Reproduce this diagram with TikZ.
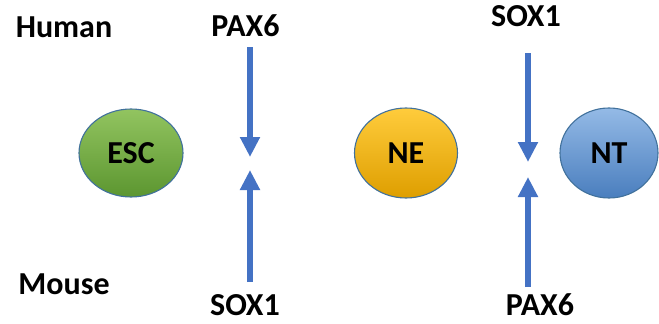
\documentclass[tikz,border=0pt]{standalone}
\usepackage{fontspec}
\setmainfont{Carlito}
\usetikzlibrary{arrows.meta,shapes.geometric}
\definecolor{rim}{HTML}{41719C}
\definecolor{arrowblue}{HTML}{4472C4}
\tikzset{
  cell/.style={ellipse, draw=rim, line width=1.1pt, inner sep=0pt,
    font=\fontsize{32}{36}\selectfont\bfseries},
  lbl/.style={font=\fontsize{32}{36}\selectfont\bfseries, inner sep=0pt, anchor=base},
  signal/.style={draw=arrowblue, line width=6pt,
    -{Triangle[width=19pt,length=20pt]}}
}
\begin{document}
\begin{tikzpicture}[x=1pt,y=-1pt]
\useasboundingbox (0,0) rectangle (659,324);

% cell-state circles
\node[cell, minimum width=104pt, minimum height=88pt,
  top color={rgb,255:red,146;green,196;blue,96}, bottom color={rgb,255:red,92;green,150;blue,48}]
  (esc) at (131,153) {ESC};
\node[cell, minimum width=103pt, minimum height=90pt,
  top color={rgb,255:red,255;green,204;blue,60}, bottom color={rgb,255:red,222;green,158;blue,0}]
  (ne) at (406,153) {NE};
\node[cell, minimum width=98pt, minimum height=90pt,
  top color={rgb,255:red,148;green,186;blue,230}, bottom color={rgb,255:red,74;green,126;blue,190}]
  (nt) at (609,153) {NT};

% species labels
\node[lbl] (human) at (64,37) {Human};
\node[lbl] (mouse) at (64,294) {Mouse};

% marker labels
\node[lbl] (paxH) at (245.5,36.7) {PAX6};
\node[lbl] (soxM) at (245,315) {SOX1};
\node[lbl] (soxH) at (526,27) {SOX1};
\node[lbl] (paxM) at (540,315) {PAX6};

% arrow ends
\coordinate (a1s) at (250,47);  \coordinate (a1e) at (250,157);
\coordinate (a2s) at (250,282); \coordinate (a2e) at (250,170);
\coordinate (b1s) at (528,53);  \coordinate (b1e) at (528,162);
\coordinate (b2s) at (528,287); \coordinate (b2e) at (528,177);

\draw[signal] (a1s) -- (a1e);
\draw[signal] (a2s) -- (a2e);
\draw[signal] (b1s) -- (b1e);
\draw[signal] (b2s) -- (b2e);
\end{tikzpicture}
\end{document}
